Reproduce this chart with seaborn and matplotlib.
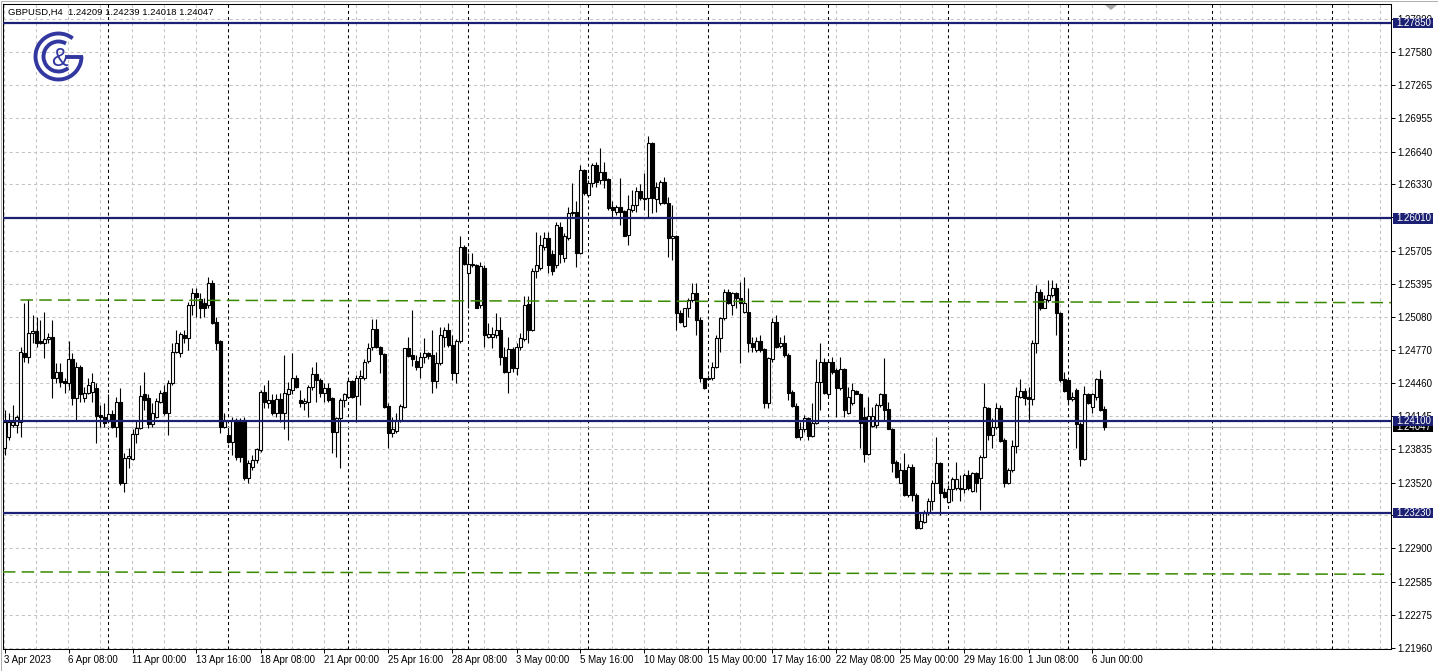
import numpy as np
import pandas as pd
import seaborn as sns
from matplotlib import pyplot as plt
from matplotlib.patches import Arc, Polygon, Rectangle
from matplotlib.transforms import blended_transform_factory

sns.set_theme(style="white")
plt.rcParams["font.family"] = ["Liberation Sans", "DejaVu Sans"]
plt.rcParams["lines.scale_dashes"] = False

symbol = "GBPUSD,H4"

# H4 candles, 3 Apr 2023 16:00 -> 6 Jun 2023 12:00
open_ = [
    1.2385, 1.2395, 1.2406, 1.2406, 1.2409, 1.2474, 1.2470, 1.2493, 1.2495, 1.2485, 1.2484, 1.2487,
    1.2489, 1.2451, 1.2456, 1.2448, 1.2446, 1.2468, 1.2432, 1.2461, 1.2432, 1.2436, 1.2437, 1.2441,
    1.2416, 1.2414, 1.2411, 1.2417, 1.2404, 1.2428, 1.2352, 1.2375, 1.2374, 1.2398, 1.2403, 1.2435,
    1.2432, 1.2407, 1.2414, 1.2428, 1.2437, 1.2418, 1.2446, 1.2475, 1.2474, 1.2491, 1.2488, 1.2519,
    1.2531, 1.2525, 1.2521, 1.2519, 1.2540, 1.2503, 1.2485, 1.2404, 1.2397, 1.2390, 1.2411, 1.2410,
    1.2411, 1.2356, 1.2367, 1.2373, 1.2383, 1.2437, 1.2427, 1.2430, 1.2418, 1.2431, 1.2418, 1.2435,
    1.2439, 1.2451, 1.2430, 1.2427, 1.2428, 1.2442, 1.2454, 1.2449, 1.2436, 1.2441, 1.2432, 1.2400,
    1.2413, 1.2430, 1.2433, 1.2448, 1.2434, 1.2451, 1.2451, 1.2467, 1.2480, 1.2497, 1.2480, 1.2473,
    1.2424, 1.2399, 1.2401, 1.2411, 1.2423, 1.2479, 1.2472, 1.2467, 1.2461, 1.2470, 1.2474, 1.2472,
    1.2448, 1.2465, 1.2489, 1.2496, 1.2482, 1.2455, 1.2485, 1.2574, 1.2550, 1.2557, 1.2557, 1.2519,
    1.2554, 1.2489, 1.2489, 1.2491, 1.2496, 1.2470, 1.2456, 1.2478, 1.2460, 1.2480, 1.2487, 1.2520,
    1.2496, 1.2551, 1.2554, 1.2574, 1.2583, 1.2567, 1.2557, 1.2593, 1.2564, 1.2583, 1.2606, 1.2607,
    1.2568, 1.2647, 1.2623, 1.2634, 1.2651, 1.2637, 1.2645, 1.2638, 1.2612, 1.2607, 1.2612, 1.2608,
    1.2585, 1.2609, 1.2614, 1.2627, 1.2620, 1.2620, 1.2672, 1.2619, 1.2616, 1.2635, 1.2616, 1.2583,
    1.2584, 1.2512, 1.2500, 1.2517, 1.2524, 1.2531, 1.2505, 1.2451, 1.2450, 1.2451, 1.2461, 1.2488,
    1.2507, 1.2532, 1.2519, 1.2531, 1.2526, 1.2513, 1.2513, 1.2484, 1.2477, 1.2485, 1.2478, 1.2427,
    1.2468, 1.2503, 1.2481, 1.2484, 1.2472, 1.2437, 1.2424, 1.2395, 1.2402, 1.2413, 1.2396, 1.2408,
    1.2447, 1.2466, 1.2435, 1.2466, 1.2458, 1.2441, 1.2459, 1.2418, 1.2427, 1.2438, 1.2435, 1.2414,
    1.2379, 1.2405, 1.2406, 1.2425, 1.2435, 1.2421, 1.2402, 1.2371, 1.2352, 1.2364, 1.2340, 1.2367,
    1.2340, 1.2309, 1.2315, 1.2323, 1.2335, 1.2352, 1.2370, 1.2343, 1.2334, 1.2346, 1.2347, 1.2347,
    1.2346, 1.2359, 1.2344, 1.2361, 1.2356, 1.2376, 1.2422, 1.2397, 1.2404, 1.2422, 1.2392, 1.2352,
    1.2364, 1.2386, 1.2433, 1.2438, 1.2433, 1.2431, 1.2484, 1.2532, 1.2517, 1.2524, 1.2529, 1.2535,
    1.2512, 1.2450, 1.2449, 1.2431, 1.2439, 1.2407, 1.2374, 1.2435, 1.2423, 1.2433, 1.2450, 1.24209,
]
high = [
    1.2420, 1.2418, 1.2425, 1.2416, 1.2480, 1.2521, 1.2525, 1.2510, 1.2508, 1.2505, 1.2513, 1.2493,
    1.2505, 1.2465, 1.2465, 1.2451, 1.2485, 1.2474, 1.2466, 1.2463, 1.2442, 1.2451, 1.2455, 1.2446,
    1.2425, 1.2427, 1.2435, 1.2420, 1.2433, 1.2441, 1.2380, 1.2385, 1.2402, 1.2411, 1.2444, 1.2456,
    1.2435, 1.2427, 1.2432, 1.2439, 1.2444, 1.2449, 1.2484, 1.2496, 1.2494, 1.2496, 1.2522, 1.2535,
    1.2535, 1.2531, 1.2526, 1.2546, 1.2543, 1.2508, 1.2486, 1.2418, 1.2403, 1.2414, 1.2413, 1.2413,
    1.2414, 1.2373, 1.2378, 1.2385, 1.2439, 1.2444, 1.2449, 1.2435, 1.2435, 1.2436, 1.2472, 1.2447,
    1.2474, 1.2453, 1.2439, 1.2432, 1.2444, 1.2461, 1.2466, 1.2451, 1.2446, 1.2446, 1.2433, 1.2414,
    1.2432, 1.2436, 1.2451, 1.2449, 1.2453, 1.2458, 1.2468, 1.2484, 1.2506, 1.2506, 1.2481, 1.2474,
    1.2427, 1.2414, 1.2418, 1.2426, 1.2479, 1.2489, 1.2515, 1.2472, 1.2475, 1.2488, 1.2475, 1.2496,
    1.2475, 1.2499, 1.2499, 1.2502, 1.2491, 1.2487, 1.2584, 1.2576, 1.2568, 1.2568, 1.2558, 1.2560,
    1.2557, 1.2502, 1.2499, 1.2512, 1.2508, 1.2480, 1.2489, 1.2480, 1.2484, 1.2493, 1.2528, 1.2528,
    1.2554, 1.2588, 1.2585, 1.2588, 1.2588, 1.2571, 1.2598, 1.2598, 1.2587, 1.2612, 1.2634, 1.2617,
    1.2651, 1.2648, 1.2637, 1.2653, 1.2654, 1.2667, 1.2654, 1.2639, 1.2617, 1.2614, 1.2639, 1.2609,
    1.2623, 1.2628, 1.2631, 1.2633, 1.2644, 1.2679, 1.2673, 1.2635, 1.2637, 1.2640, 1.2621, 1.2614,
    1.2585, 1.2515, 1.2517, 1.2526, 1.2540, 1.2540, 1.2508, 1.2451, 1.2453, 1.2466, 1.2491, 1.2508,
    1.2534, 1.2534, 1.2532, 1.2532, 1.2541, 1.2546, 1.2535, 1.2489, 1.2489, 1.2491, 1.2479, 1.2470,
    1.2507, 1.2510, 1.2489, 1.2491, 1.2474, 1.2439, 1.2427, 1.2409, 1.2416, 1.2414, 1.2427, 1.2468,
    1.2484, 1.2469, 1.2468, 1.2470, 1.2460, 1.2470, 1.2460, 1.2442, 1.2446, 1.2439, 1.2436, 1.2423,
    1.2433, 1.2423, 1.2427, 1.2436, 1.2469, 1.2428, 1.2403, 1.2373, 1.2370, 1.2380, 1.2369, 1.2369,
    1.2342, 1.2323, 1.2326, 1.2337, 1.2354, 1.2395, 1.2371, 1.2347, 1.2350, 1.2357, 1.2371, 1.2359,
    1.2361, 1.2364, 1.2362, 1.2362, 1.2378, 1.2446, 1.2423, 1.2413, 1.2427, 1.2425, 1.2394, 1.2366,
    1.2392, 1.2442, 1.2450, 1.2441, 1.2442, 1.2486, 1.2538, 1.2534, 1.2529, 1.2543, 1.2543, 1.2540,
    1.2513, 1.2456, 1.2450, 1.2437, 1.2441, 1.2409, 1.2443, 1.2436, 1.2436, 1.2451, 1.2458, 1.24239,
]
low = [
    1.2378, 1.2392, 1.2404, 1.2399, 1.2395, 1.2466, 1.2465, 1.2484, 1.2480, 1.2483, 1.2469, 1.2484,
    1.2432, 1.2446, 1.2442, 1.2436, 1.2439, 1.2425, 1.2411, 1.2428, 1.2428, 1.2435, 1.2428, 1.2389,
    1.2404, 1.2404, 1.2409, 1.2403, 1.2395, 1.2350, 1.2343, 1.2366, 1.2373, 1.2389, 1.2402, 1.2420,
    1.2403, 1.2404, 1.2413, 1.2427, 1.2416, 1.2397, 1.2444, 1.2474, 1.2470, 1.2484, 1.2477, 1.2510,
    1.2508, 1.2507, 1.2508, 1.2517, 1.2501, 1.2477, 1.2399, 1.2403, 1.2389, 1.2378, 1.2373, 1.2371,
    1.2354, 1.2352, 1.2364, 1.2370, 1.2381, 1.2422, 1.2422, 1.2416, 1.2414, 1.2409, 1.2402, 1.2392,
    1.2435, 1.2441, 1.2423, 1.2420, 1.2414, 1.2439, 1.2428, 1.2433, 1.2428, 1.2428, 1.2380, 1.2376,
    1.2366, 1.2423, 1.2432, 1.2432, 1.2409, 1.2425, 1.2449, 1.2465, 1.2477, 1.2479, 1.2455, 1.2422,
    1.2385, 1.2395, 1.2399, 1.2409, 1.2422, 1.2470, 1.2462, 1.2458, 1.2451, 1.2465, 1.2468, 1.2436,
    1.2441, 1.2463, 1.2480, 1.2480, 1.2449, 1.2446, 1.2484, 1.2557, 1.2517, 1.2555, 1.2517, 1.2517,
    1.2480, 1.2488, 1.2479, 1.2488, 1.2463, 1.2455, 1.2436, 1.2456, 1.2453, 1.2477, 1.2485, 1.2484,
    1.2495, 1.2545, 1.2552, 1.2571, 1.2550, 1.2548, 1.2554, 1.2559, 1.2560, 1.2581, 1.2603, 1.2555,
    1.2567, 1.2623, 1.2621, 1.2631, 1.2631, 1.2633, 1.2630, 1.2609, 1.2602, 1.2604, 1.2595, 1.2584,
    1.2576, 1.2607, 1.2607, 1.2618, 1.2609, 1.2601, 1.2606, 1.2607, 1.2614, 1.2615, 1.2565, 1.2562,
    1.2496, 1.2502, 1.2499, 1.2508, 1.2522, 1.2491, 1.2447, 1.2440, 1.2449, 1.2449, 1.2460, 1.2475,
    1.2505, 1.2520, 1.2510, 1.2517, 1.2465, 1.2512, 1.2475, 1.2475, 1.2475, 1.2475, 1.2422, 1.2422,
    1.2466, 1.2479, 1.2479, 1.2470, 1.2430, 1.2423, 1.2394, 1.2392, 1.2400, 1.2392, 1.2395, 1.2407,
    1.2420, 1.2435, 1.2433, 1.2454, 1.2414, 1.2439, 1.2414, 1.2417, 1.2425, 1.2435, 1.2385, 1.2371,
    1.2378, 1.2404, 1.2403, 1.2423, 1.2411, 1.2402, 1.2362, 1.2356, 1.2352, 1.2339, 1.2338, 1.2335,
    1.2308, 1.2308, 1.2314, 1.2321, 1.2326, 1.2352, 1.2321, 1.2337, 1.2333, 1.2335, 1.2345, 1.2335,
    1.2342, 1.2345, 1.2343, 1.2343, 1.2326, 1.2375, 1.2392, 1.2385, 1.2402, 1.2390, 1.2348, 1.2351,
    1.2362, 1.2380, 1.2432, 1.2425, 1.2409, 1.2425, 1.2474, 1.2515, 1.2517, 1.2522, 1.2527, 1.2491,
    1.2447, 1.2437, 1.2425, 1.2429, 1.2385, 1.2368, 1.2373, 1.2426, 1.2418, 1.2430, 1.2419, 1.24018,
]
close = [
    1.2409, 1.2409, 1.2409, 1.2414, 1.2475, 1.2470, 1.2493, 1.2495, 1.2484, 1.2484, 1.2487, 1.2489,
    1.2451, 1.2456, 1.2447, 1.2446, 1.2468, 1.2432, 1.2461, 1.2435, 1.2436, 1.2444, 1.2447, 1.2415,
    1.2414, 1.2408, 1.2417, 1.2404, 1.2428, 1.2352, 1.2375, 1.2377, 1.2398, 1.2403, 1.2434, 1.2430,
    1.2407, 1.2418, 1.2429, 1.2436, 1.2418, 1.2446, 1.2475, 1.2484, 1.2492, 1.2488, 1.2519, 1.2531,
    1.2527, 1.2517, 1.2517, 1.2540, 1.2502, 1.2484, 1.2404, 1.2410, 1.2390, 1.2411, 1.2376, 1.2376,
    1.2356, 1.2370, 1.2373, 1.2384, 1.2437, 1.2428, 1.2430, 1.2418, 1.2431, 1.2418, 1.2436, 1.2440,
    1.2451, 1.2442, 1.2427, 1.2429, 1.2442, 1.2454, 1.2449, 1.2436, 1.2441, 1.2430, 1.2400, 1.2413,
    1.2430, 1.2435, 1.2448, 1.2433, 1.2451, 1.2452, 1.2466, 1.2479, 1.2497, 1.2480, 1.2473, 1.2423,
    1.2399, 1.2402, 1.2411, 1.2424, 1.2479, 1.2471, 1.2468, 1.2461, 1.2470, 1.2474, 1.2471, 1.2448,
    1.2465, 1.2491, 1.2496, 1.2482, 1.2455, 1.2485, 1.2574, 1.2558, 1.2558, 1.2558, 1.2517, 1.2556,
    1.2491, 1.2492, 1.2492, 1.2496, 1.2470, 1.2456, 1.2478, 1.2460, 1.2480, 1.2488, 1.2519, 1.2496,
    1.2551, 1.2557, 1.2576, 1.2583, 1.2557, 1.2551, 1.2595, 1.2567, 1.2584, 1.2606, 1.2607, 1.2568,
    1.2647, 1.2625, 1.2634, 1.2651, 1.2635, 1.2645, 1.2637, 1.2611, 1.2609, 1.2612, 1.2607, 1.2584,
    1.2610, 1.2614, 1.2627, 1.2620, 1.2619, 1.2672, 1.2620, 1.2631, 1.2635, 1.2616, 1.2583, 1.2584,
    1.2512, 1.2503, 1.2517, 1.2524, 1.2531, 1.2505, 1.2451, 1.2441, 1.2451, 1.2461, 1.2488, 1.2507,
    1.2532, 1.2521, 1.2531, 1.2526, 1.2521, 1.2521, 1.2484, 1.2480, 1.2485, 1.2477, 1.2427, 1.2469,
    1.2503, 1.2480, 1.2484, 1.2472, 1.2436, 1.2424, 1.2395, 1.2402, 1.2413, 1.2396, 1.2408, 1.2447,
    1.2466, 1.2436, 1.2466, 1.2456, 1.2441, 1.2459, 1.2420, 1.2433, 1.2439, 1.2435, 1.2408, 1.2379,
    1.2415, 1.2415, 1.2425, 1.2435, 1.2420, 1.2402, 1.2370, 1.2357, 1.2364, 1.2340, 1.2367, 1.2340,
    1.2309, 1.2316, 1.2323, 1.2335, 1.2352, 1.2370, 1.2342, 1.2338, 1.2346, 1.2355, 1.2355, 1.2346,
    1.2359, 1.2347, 1.2361, 1.2352, 1.2376, 1.2423, 1.2397, 1.2404, 1.2422, 1.2391, 1.2352, 1.2364,
    1.2386, 1.2434, 1.2438, 1.2432, 1.2431, 1.2484, 1.2532, 1.2517, 1.2525, 1.2529, 1.2535, 1.2512,
    1.2449, 1.2438, 1.2431, 1.2433, 1.2407, 1.2374, 1.2435, 1.2427, 1.2435, 1.2450, 1.2420, 1.24047,
]

levels = [1.27850, 1.26010, 1.24100, 1.23230]
last_price = close[-1]
upper_trend = [1.25241, 1.25216]
lower_trend = [1.22677, 1.22655]
week_starts = [26, 56, 86, 116, 146, 176, 206, 236, 266, 302, 332]

price_ticks = [1.27890, 1.27580, 1.27265, 1.26955, 1.26640, 1.26330, 1.26020,
               1.25705, 1.25395, 1.25080, 1.24770, 1.24460, 1.24145, 1.23835,
               1.23520, 1.23210, 1.22900, 1.22585, 1.22275, 1.21960]
# scale labels fully covered by the level boxes
covered_ticks = [1.26020, 1.23210]
time_labels = ["3 Apr 2023", "6 Apr 08:00", "11 Apr 00:00", "13 Apr 16:00",
               "18 Apr 08:00", "21 Apr 00:00", "25 Apr 16:00", "28 Apr 08:00",
               "3 May 00:00", "5 May 16:00", "10 May 08:00", "15 May 00:00",
               "17 May 16:00", "22 May 08:00", "25 May 00:00", "29 May 16:00",
               "1 Jun 08:00", "6 Jun 00:00"]

NAVY = "#1c2073"
GREEN = "#3a8a00"
GRID = "#c3c3c3"
LOGO = "#3338a0"
FS = 7.0

bars = pd.DataFrame({"open": open_, "high": high, "low": low, "close": close})
bars["n"] = np.arange(len(bars))
bull = bars["close"] >= bars["open"]
bars["base"] = bars[["open", "close"]].min(axis=1)
bars["body"] = (bars["close"] - bars["open"]).abs().clip(lower=0.00004)

W, H = 1438, 671
fig = plt.figure(figsize=(W / 100, H / 100), dpi=100)
ax = fig.add_axes([3 / W, 1 - 649 / H, 1388 / W, 645 / H])

# grid and period separators
for p in price_ticks:
    ax.axhline(p, color=GRID, lw=0.75, ls=(0, (2.2, 2.2)), zorder=0)
for k in range(44):
    ax.axvline(8 * k - 0.125, color=GRID, lw=0.75, ls=(0, (2.2, 2.2)), zorder=0)
for n in week_starts:
    ax.axvline(n, color="black", lw=0.75, ls=(0, (2.2, 2.2)), zorder=1)

ax.axhline(last_price, color="#b4b4b4", lw=0.8, zorder=1)

# candles
ax.vlines(bars["n"], bars["low"], bars["high"], color="black", lw=0.8, zorder=3)
ax.bar(bars["n"][bull], bars["body"][bull], bottom=bars["base"][bull], width=0.52,
       color="white", edgecolor="black", linewidth=0.8, zorder=4)
ax.bar(bars["n"][~bull], bars["body"][~bull], bottom=bars["base"][~bull], width=0.52,
       color="black", edgecolor="black", linewidth=0.8, zorder=4)

# green trend lines
for x_ends, y_ends in [([4, 347], upper_trend), ([-0.4, 347], lower_trend)]:
    seg = pd.DataFrame({"n": x_ends, "price": y_ends})
    sns.lineplot(data=seg, x="n", y="price", color=GREEN, lw=1.1,
                 linestyle=(0, (9, 4.5)), ax=ax, zorder=5)

for lv in levels:
    ax.axhline(lv, color=NAVY, lw=1.6, zorder=6)

ax.set_xlim(-0.375, 346.625)
ax.set_ylim(1.21950, 1.28032)
ax.set_xlabel("")
ax.set_ylabel("")

ax.yaxis.tick_right()
ax.set_yticks(price_ticks)
ax.set_yticklabels(["" if v in covered_ticks else f"{v:.5f}" for v in price_ticks])
ax.set_xticks(range(0, len(bars), 16))
ax.set_xticklabels(time_labels)
for lab in ax.get_xticklabels():
    lab.set_ha("left")
ax.tick_params(axis="both", labelsize=FS, colors="black", length=3, width=0.7,
               direction="out")
ax.tick_params(axis="y", pad=1.3, left=False, right=True)
ax.tick_params(axis="x", pad=1.6, bottom=True)
for sp in ax.spines.values():
    sp.set_color("black")
    sp.set_linewidth(0.75)

# price boxes on the right scale
tr = blended_transform_factory(ax.transAxes, ax.transData)
half = 0.00048
ax.add_patch(Rectangle((1 + 2 / 1388, last_price - half), 40 / 1388, 2 * half,
                       transform=tr, clip_on=False, fc="black", ec="none", zorder=8))
ax.text(1 + 5 / 1388, last_price, f"{last_price:.5f}", transform=tr, color="white",
        fontsize=FS, va="center", ha="left", clip_on=False, zorder=9)
for lv in levels:
    ax.add_patch(Rectangle((1 + 2 / 1388, lv - half), 40 / 1388, 2 * half,
                           transform=tr, clip_on=False, fc=NAVY, ec="none", zorder=10))
    ax.text(1 + 5 / 1388, lv, f"{lv:.5f}", transform=tr, color="white",
            fontsize=FS, va="center", ha="left", clip_on=False, zorder=11)

# overlay in pixel units: header, logo, frame
ov = fig.add_axes([0, 0, 1, 1], zorder=20)
ov.set_xlim(0, W)
ov.set_ylim(H, 0)
ov.axis("off")
ov.patch.set_visible(False)

header = f"{symbol}  {open_[-1]:.5f} {high[-1]:.5f} {low[-1]:.5f} {close[-1]:.5f}"
ov.text(7.5, 12.5, header, fontsize=6.8, color="black", va="center", ha="left")

cx, cy = 58.5, 56.5
ov.add_patch(Arc((cx, cy), 46, 46, theta1=0, theta2=308, color=LOGO, lw=2.8))
ov.add_patch(Arc((cx, cy), 30, 30, theta1=50, theta2=300, color=LOGO, lw=2.8))
ov.plot([cx + 6, cx + 24], [cy, cy], color=LOGO, lw=2.8, solid_capstyle="butt")
ov.text(cx + 0.5, cy + 3, "&", fontsize=18, color=LOGO, ha="center", va="center")

ov.add_patch(Polygon([(1105, 5), (1117, 5), (1111, 10)], closed=True,
                     fc="#a8a8a8", ec="none"))
ov.add_patch(Rectangle((0.5, 0.5), W - 1, H - 1, fill=False, ec="#b0b0b0", lw=0.75))

fig.savefig("out.png", dpi=100)
